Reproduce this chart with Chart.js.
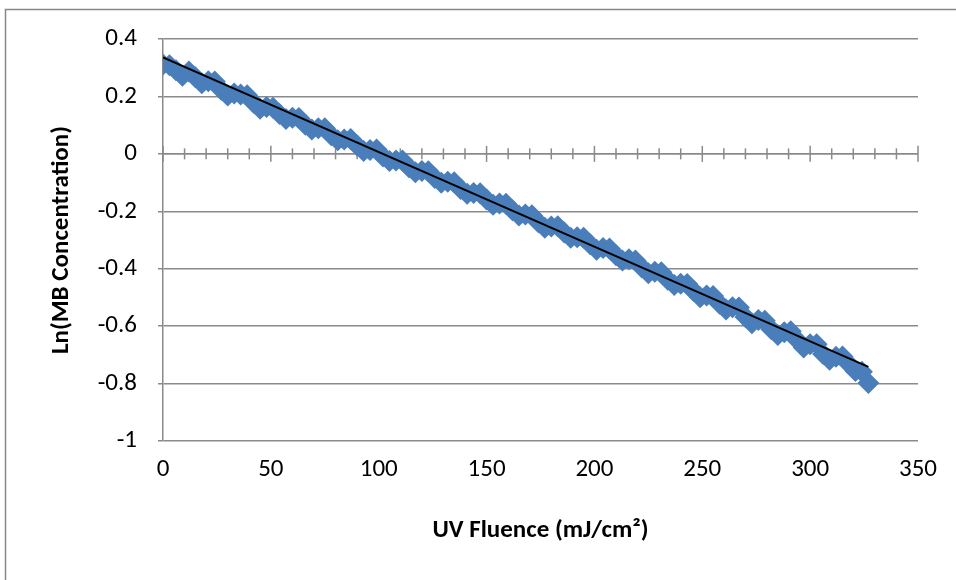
<!DOCTYPE html>
<html>
<head>
<meta charset="utf-8">
<script src="https://cdn.jsdelivr.net/npm/chart.js@4"></script>
<style>
  html, body { margin: 0; padding: 0; background: #fff; }
  #wrap { width: 956px; height: 580px; }
</style>
</head>
<body>
<div id="wrap"><canvas id="c" width="956" height="580"></canvas></div>
<script>
// ---- data ----
const fluence = [0,3,6,9,12,15,18,21,24,27,30,33,36,39,42,45,48,51,54,57,60,63,66,69,72,75,78,81,84,87,90,93,96,99,102,105,108,111,114,117,120,123,126,129,132,135,138,141,144,147,150,153,156,159,162,165,168,171,174,177,180,183,186,189,192,195,198,201,204,207,210,213,216,219,222,225,228,231,234,237,240,243,246,249,252,255,258,261,264,267,270,273,276,279,282,285,288,291,294,297,300,303,306,309,312,315,318,321,324,327];
const lnConc = [0.311,0.309,0.291,0.272,0.287,0.267,0.246,0.253,0.252,0.223,0.203,0.210,0.207,0.204,0.178,0.157,0.163,0.161,0.139,0.121,0.126,0.125,0.101,0.085,0.089,0.089,0.065,0.047,0.050,0.052,0.029,0.010,0.013,0.015,-0.009,-0.025,-0.023,-0.023,-0.047,-0.064,-0.060,-0.061,-0.084,-0.101,-0.097,-0.099,-0.122,-0.139,-0.136,-0.137,-0.159,-0.177,-0.173,-0.174,-0.196,-0.215,-0.211,-0.214,-0.238,-0.257,-0.253,-0.252,-0.274,-0.292,-0.290,-0.292,-0.315,-0.334,-0.328,-0.330,-0.353,-0.371,-0.367,-0.371,-0.396,-0.416,-0.411,-0.412,-0.438,-0.457,-0.452,-0.453,-0.478,-0.499,-0.493,-0.495,-0.522,-0.542,-0.534,-0.535,-0.568,-0.590,-0.579,-0.581,-0.611,-0.631,-0.621,-0.618,-0.648,-0.674,-0.663,-0.663,-0.697,-0.717,-0.707,-0.706,-0.732,-0.756,-0.759,-0.798];
const trendX = [0, 327];
const trendY = [0.336, -0.742];
const xTicks = [0, 50, 100, 150, 200, 250, 300, 350];
const yTicks = [-1, -0.8, -0.6, -0.4, -0.2, 0, 0.2, 0.4];
const xMinorStep = 10;

const FONT = 'Carlito, Calibri, Lato, "Open Sans", sans-serif';
const GRID = '#8a8a8a';
const FS = 25;

const pts = fluence.map((x, i) => ({x: x, y: lnConc[i]}));
const trend = trendX.map((x, i) => ({x: x, y: trendY[i]}));

const frame = {
  id: 'frame',
  beforeDraw(chart) {
    const ctx = chart.ctx;
    ctx.save();
    ctx.fillStyle = '#fff';
    ctx.fillRect(0, 0, chart.width, chart.height);
    ctx.strokeStyle = '#878787';
    ctx.lineWidth = 1.5;
    ctx.strokeRect(5.5, 9.5, 1000, 1000);
    ctx.restore();
  }
};

const zeroAxis = {
  id: 'zeroAxis',
  beforeDatasetsDraw(chart) {
    const ctx = chart.ctx, xs = chart.scales.x, ys = chart.scales.y;
    const y0 = ys.getPixelForValue(0);
    ctx.save();
    ctx.strokeStyle = GRID;
    ctx.lineWidth = 1.5;
    ctx.beginPath();
    ctx.moveTo(xs.getPixelForValue(xs.min), y0);
    ctx.lineTo(xs.getPixelForValue(xs.max), y0);
    ctx.stroke();
    for (let v = xs.min; v <= xs.max + 1e-9; v += xMinorStep) {
      const px = xs.getPixelForValue(v);
      const major = xTicks.includes(v);
      const h = major ? 8 : 5.5;
      ctx.beginPath();
      ctx.moveTo(px, y0 - h);
      ctx.lineTo(px, y0 + h);
      ctx.stroke();
    }
    ctx.restore();
  }
};

new Chart(document.getElementById('c'), {
  data: {
    datasets: [
      {
        type: 'scatter',
        label: 'Ln(MB Concentration)',
        data: pts,
        pointStyle: 'rectRot',
        pointRadius: 11,
        pointHoverRadius: 11,
        backgroundColor: '#4a7ebb',
        borderColor: '#4a7ebb',
        borderWidth: 0,
        order: 2
      },
      {
        type: 'line',
        label: 'Linear',
        data: trend,
        borderColor: '#000',
        borderWidth: 2,
        pointRadius: 0,
        fill: false,
        order: 1
      }
    ]
  },
  options: {
    responsive: false,
    animation: false,
    events: [],
    layout: { padding: { left: 0, right: 38, top: 39, bottom: 0 } },
    plugins: { legend: { display: false }, tooltip: { enabled: false } },
    scales: {
      x: {
        type: 'linear',
        min: 0, max: 350,
        afterBuildTicks(s) { s.ticks = xTicks.map(v => ({value: v})); },
        afterFit(s) { s.height = 139; },
        grid: { display: false },
        border: { display: false },
        ticks: { padding: 6, color: '#000', font: { family: FONT, size: FS }, maxRotation: 0 },
        title: {
          display: true,
          text: 'UV Fluence (mJ/cm²)',
          color: '#000',
          font: { family: FONT, size: FS, weight: 'bold' },
          padding: { top: 0, bottom: 34 }
        }
      },
      y: {
        type: 'linear',
        min: -1, max: 0.4,
        afterBuildTicks(s) { s.ticks = yTicks.map(v => ({value: v})); },
        afterFit(s) { s.width = 163; },
        grid: { color: GRID, lineWidth: 1.5, drawTicks: true, tickLength: 5 },
        border: { display: true, color: GRID, width: 1.5 },
        ticks: {
          padding: 21, color: '#000', font: { family: FONT, size: FS },
          callback: v => String(Number(v.toFixed(1)))
        },
        title: {
          display: true,
          text: 'Ln(MB Concentration)',
          color: '#000',
          font: { family: FONT, size: FS, weight: 'bold' },
          padding: { top: 47, bottom: 0 }
        }
      }
    }
  },
  plugins: [frame, zeroAxis]
});
</script>
</body>
</html>
